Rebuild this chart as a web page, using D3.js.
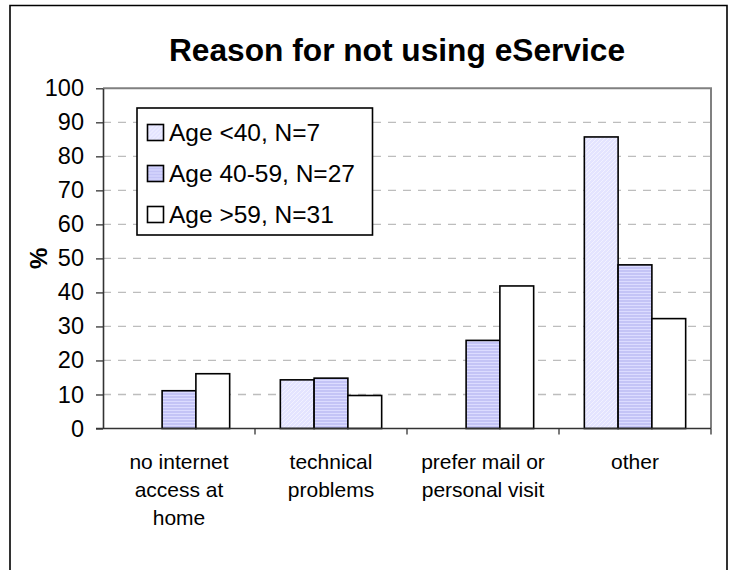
<!DOCTYPE html>
<html>
<head>
<meta charset="utf-8">
<script src="https://cdn.jsdelivr.net/npm/d3@7"></script>
<style>
  html, body { margin: 0; padding: 0; background: #fff; }
  svg { display: block; font-family: Arial, "Liberation Sans", sans-serif; }
</style>
</head>
<body>
<svg id="chart" width="729" height="570"></svg>
<script>
// Survey answers: share of respondents (%) per reason, by age group
const categories = [
  ["no internet", "access at", "home"],
  ["technical", "problems"],
  ["prefer mail or", "personal visit"],
  ["other"]
];
const seriesNames = ["Age <40, N=7", "Age 40-59, N=27", "Age >59, N=31"];
const ageUnder40 = [0, 14.3, 0, 85.7];
const age40to59 = [11.1, 14.8, 25.9, 48.1];
const ageOver59 = [16.1, 9.7, 41.9, 32.3];
const yTicks = [0, 10, 20, 30, 40, 50, 60, 70, 80, 90, 100];

const seriesValues = [ageUnder40, age40to59, ageOver59];
const catKeys = categories.map(c => c.join(" "));

const svg = d3.select("#chart");
const defs = svg.append("defs");

// fine diagonal hatch for the youngest group
const p1 = defs.append("pattern").attr("id", "fillA")
  .attr("patternUnits", "userSpaceOnUse").attr("width", 4).attr("height", 4);
p1.append("rect").attr("width", 4).attr("height", 4).attr("fill", "#E4E4FF");
p1.append("path").attr("d", "M-1,1 l2,-2 M0,4 l4,-4 M3,5 l2,-2")
  .attr("stroke", "#F2F2FF").attr("stroke-width", 1);

// horizontal stripes for the middle group
const p2 = defs.append("pattern").attr("id", "fillB")
  .attr("patternUnits", "userSpaceOnUse").attr("width", 4).attr("height", 3);
p2.append("rect").attr("width", 4).attr("height", 3).attr("fill", "#C4C4F6");
p2.append("rect").attr("y", 2).attr("width", 4).attr("height", 1).attr("fill", "#DCDCFF");

const fills = ["url(#fillA)", "url(#fillB)", "#FFFFFF"];

// outer chart frame
svg.append("path")
  .attr("d", "M10,572 V5.5 H727 V572")
  .attr("fill", "none").attr("stroke", "#000").attr("stroke-width", 1.6);

const plot = { left: 103, right: 711, top: 88.3, bottom: 428.5 };

const y = d3.scaleLinear().domain([0, 100]).range([plot.bottom, plot.top]);
const x0 = d3.scaleBand().domain(catKeys).range([plot.left, plot.right]).padding(0);
const x1 = d3.scaleBand().domain(d3.range(seriesNames.length))
  .range([0, x0.bandwidth()]).paddingInner(0).paddingOuter(0.75);

// dashed gridlines
svg.append("g").selectAll("line")
  .data(yTicks.filter(t => t > 0 && t < 100))
  .join("line")
  .attr("x1", plot.left).attr("x2", plot.right)
  .attr("y1", d => y(d)).attr("y2", d => y(d))
  .attr("stroke", "#BDBDBD").attr("stroke-width", 1.3)
  .attr("stroke-dasharray", "8,7");

// plot area border (top and right)
svg.append("path")
  .attr("d", `M${plot.left},${plot.top} H${plot.right} V${plot.bottom}`)
  .attr("fill", "none").attr("stroke", "#808080").attr("stroke-width", 2);

// bars
const groups = svg.append("g").selectAll("g")
  .data(catKeys)
  .join("g")
  .attr("transform", d => `translate(${x0(d)},0)`);

groups.selectAll("rect")
  .data((d, i) => seriesValues.map((vals, s) => ({ s, v: vals[i] })).filter(e => e.v > 0))
  .join("rect")
  .attr("x", d => x1(d.s))
  .attr("width", x1.bandwidth())
  .attr("y", d => y(d.v))
  .attr("height", d => y(0) - y(d.v))
  .attr("fill", d => fills[d.s])
  .attr("stroke", "#000").attr("stroke-width", 1.6);

// y axis
const yAxis = svg.append("g")
  .attr("transform", `translate(${plot.left},0)`)
  .call(d3.axisLeft(y).tickValues(yTicks).tickSize(7).tickPadding(12).tickSizeOuter(0));
yAxis.select(".domain").attr("stroke", "#333").attr("stroke-width", 1.6);
yAxis.selectAll(".tick line").attr("stroke", "#333").attr("stroke-width", 1.3);
yAxis.selectAll(".tick text")
  .attr("font-size", 23.5).attr("fill", "#000")
  .style("font-family", "Arial, 'Liberation Sans', sans-serif");

// x axis baseline with ticks at category boundaries
svg.append("line")
  .attr("x1", plot.left - 7).attr("x2", plot.right)
  .attr("y1", plot.bottom).attr("y2", plot.bottom)
  .attr("stroke", "#333").attr("stroke-width", 1.6);
svg.append("g").selectAll("line")
  .data(catKeys.map(k => x0(k) + x0.bandwidth()))
  .join("line")
  .attr("x1", d => d).attr("x2", d => d)
  .attr("y1", plot.bottom).attr("y2", plot.bottom + 6)
  .attr("stroke", "#333").attr("stroke-width", 1.3);

// category labels
const xl = svg.append("g").selectAll("text")
  .data(categories)
  .join("text")
  .attr("text-anchor", "middle")
  .attr("font-size", 21)
  .attr("fill", "#000")
  .attr("transform", (d, i) => `translate(${x0(catKeys[i]) + x0.bandwidth() / 2},${plot.bottom + 40})`);
xl.selectAll("tspan")
  .data(d => d)
  .join("tspan")
  .attr("x", 0)
  .attr("dy", (d, i) => i === 0 ? 0 : 28)
  .text(d => d);

// y axis title
svg.append("text")
  .attr("transform", `translate(47,${(plot.top + plot.bottom) / 2}) rotate(-90)`)
  .attr("text-anchor", "middle")
  .attr("font-size", 24).attr("font-weight", "bold")
  .text("%");

// chart title
svg.append("text")
  .attr("x", 397).attr("y", 61)
  .attr("text-anchor", "middle")
  .attr("font-size", 31.7).attr("font-weight", "bold")
  .text("Reason for not using eService");

// legend
const legend = svg.append("g");
legend.append("rect")
  .attr("x", 137).attr("y", 108).attr("width", 235.5).attr("height", 127)
  .attr("fill", "#fff").attr("stroke", "#000").attr("stroke-width", 1.6);
const items = legend.selectAll("g.item")
  .data(seriesNames)
  .join("g").attr("class", "item")
  .attr("transform", (d, i) => `translate(147,${132.5 + i * 41})`);
items.append("rect")
  .attr("x", 0.5).attr("y", -8).attr("width", 16).attr("height", 16)
  .attr("fill", (d, i) => fills[i])
  .attr("stroke", "#000").attr("stroke-width", 1.6);
items.append("text")
  .attr("x", 22).attr("y", 0).attr("dy", "0.35em")
  .attr("font-size", 24.5)
  .text(d => d);
</script>
</body>
</html>
